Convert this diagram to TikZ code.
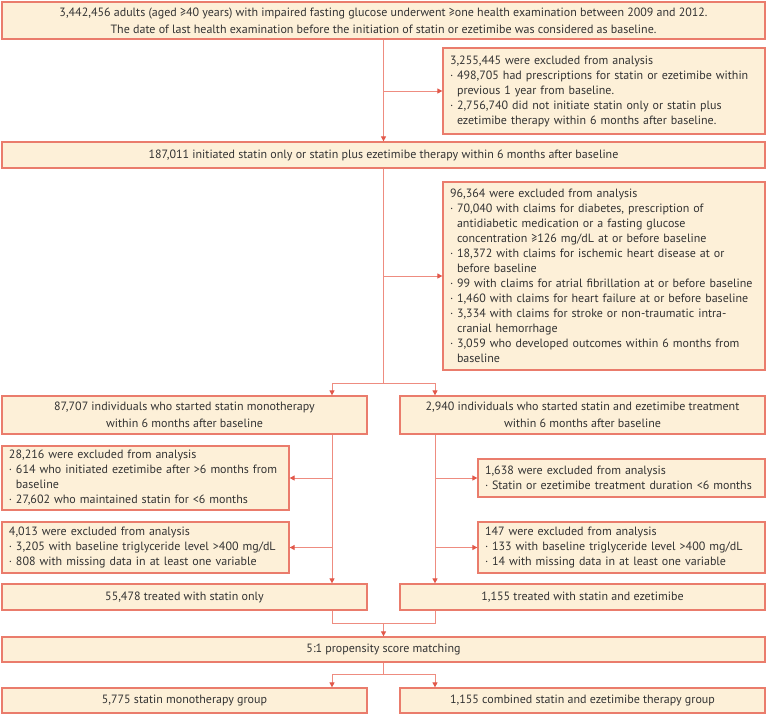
\documentclass[tikz,border=0pt]{standalone}
\usepackage{fontspec}
\setmainfont{PT Sans}
\usetikzlibrary{arrows.meta,calc}
\definecolor{boxfill}{HTML}{FDF0D8}
\definecolor{boxline}{HTML}{EA7C6C}
\definecolor{connc}{HTML}{EE8C80}
\definecolor{tipc}{HTML}{E2584A}
\definecolor{txtc}{HTML}{333333}
\newcommand\bl{\makebox[7pt][l]{·}}
\newcommand\ind{\hspace*{7pt}}
\newcommand\li[1]{\mbox{#1}\\}
\newcommand\lz[1]{\mbox{#1}}
\begin{document}
\begin{tikzpicture}[x=1pt,y=-1pt,
  box/.style={draw=boxline, fill=boxfill, line width=1.3pt, text=txtc,
    font=\fontsize{12}{17}\selectfont, inner sep=0pt, align=center},
  xbox/.style={draw=boxline, fill=boxfill, line width=1.3pt, text=txtc,
    font=\fontsize{12}{15}\selectfont, inner xsep=7pt, inner ysep=0pt, align=left},
  conn/.style={draw=connc, line width=1pt},
  arr/.style={conn, -{Triangle[length=5pt,width=5pt,color=tipc]}}]
\fill[white] (0,0) rectangle (767,715);
\useasboundingbox (0,0) rectangle (767,715);

\node[box, minimum width=763, minimum height=37] (b1) at (383.5,20.5)
  {3,442,456 adults (aged ≥40 years) with impaired fasting glucose underwent ≥one health examination between 2009 and 2012.\\
   The date of last health examination before the initiation of statin or ezetimibe was considered as baseline.};

\node[xbox, text width=308, minimum height=86] (e1) at (604,91)
  {\li{3,255,445 were excluded from analysis}
   \li{\bl 498,705 had prescriptions for statin or ezetimibe within}
   \li{\ind previous 1 year from baseline.}
   \li{\bl 2,756,740 did not initiate statin only or statin plus}
   \lz{\ind ezetimibe therapy within 6 months after baseline.}};

\node[box, minimum width=763, minimum height=26] (b2) at (383.5,155)
  {187,011 initiated statin only or statin plus ezetimibe therapy within 6 months after baseline};

\node[xbox, text width=308, minimum height=188] (e2) at (604,276)
  {\li{96,364 were excluded from analysis}
   \li{\bl 70,040 with claims for diabetes, prescription of}
   \li{\ind antidiabetic medication or a fasting glucose}
   \li{\ind concentration ≥126 mg/dL at or before baseline}
   \li{\bl 18,372 with claims for ischemic heart disease at or}
   \li{\ind before baseline}
   \li{\bl 99 with claims for atrial fibrillation at or before baseline}
   \li{\bl 1,460 with claims for heart failure at or before baseline}
   \li{\bl 3,334 with claims for stroke or non-traumatic intra-}
   \li{\ind cranial hemorrhage}
   \li{\bl 3,059 who developed outcomes within 6 months from}
   \lz{\ind baseline}};

\node[box, minimum width=365, minimum height=38] (L1) at (184.5,415)
  {87,707 individuals who started statin monotherapy\\within 6 months after baseline};
\node[box, minimum width=365, minimum height=38] (R1) at (582.5,415)
  {2,940 individuals who started statin and ezetimibe treatment\\within 6 months after baseline};

\node[xbox, text width=273, minimum height=64] (eL1) at (145.5,478)
  {\li{28,216 were excluded from analysis}
   \li{\bl 614 who initiated ezetimibe after >6 months from}
   \li{\ind baseline}
   \lz{\bl 27,602 who maintained statin for <6 months}};
\node[xbox, text width=273, minimum height=38] (eR1) at (621.5,478)
  {\li{1,638 were excluded from analysis}
   \lz{\bl Statin or ezetimibe treatment duration <6 months}};

\node[xbox, text width=273, minimum height=51] (eL2) at (145.5,547.5)
  {\li{4,013 were excluded from analysis}
   \li{\bl 3,205 with baseline triglyceride level >400 mg/dL}
   \lz{\bl 808 with missing data in at least one variable}};
\node[xbox, text width=273, minimum height=51] (eR2) at (621.5,547.5)
  {\li{147 were excluded from analysis}
   \li{\bl 133 with baseline triglyceride level >400 mg/dL}
   \lz{\bl 14 with missing data in at least one variable}};

\node[box, minimum width=365, minimum height=26] (L3) at (184.5,597) {55,478 treated with statin only};
\node[box, minimum width=365, minimum height=26] (R3) at (582.5,597) {1,155 treated with statin and ezetimibe};

\node[box, minimum width=763, minimum height=25] (pm) at (383.5,649.5) {5:1 propensity score matching};

\node[box, minimum width=365, minimum height=25] (L4) at (184.5,700.5) {5,775 statin monotherapy group};
\node[box, minimum width=365, minimum height=25] (R4) at (582.5,700.5) {1,155 combined statin and ezetimibe therapy group};

\coordinate (lx) at (332,0);
\coordinate (rx) at (435,0);
\coordinate (s1) at (383.5,383);
\coordinate (m) at (383.5,623);
\coordinate (s2) at (383.5,674);

\draw[arr] (b1.south) -- (b2.north);
\draw[arr] (b1.south |- e1.west) -- (e1.west);
\draw[conn] (b2.south) -- (s1);
\draw[arr] (b2.south |- e2.west) -- (e2.west);
\draw[arr] (s1) -| (lx |- L1.north);
\draw[arr] (s1) -| (rx |- R1.north);
\draw[arr] (lx |- L1.south) -- (lx |- L3.north);
\draw[arr] (rx |- R1.south) -- (rx |- R3.north);
\draw[arr] (lx |- eL1.east) -- (eL1.east);
\draw[arr] (lx |- eL2.east) -- (eL2.east);
\draw[arr] (rx |- eR1.west) -- (eR1.west);
\draw[arr] (rx |- eR2.west) -- (eR2.west);
\draw[conn] (lx |- L3.south) |- (m) -| (rx |- R3.south);
\draw[arr] (m) -- (pm.north);
\draw[conn] (pm.south) -- (s2);
\draw[arr] (s2) -| (lx |- L4.north);
\draw[arr] (s2) -| (rx |- R4.north);
\end{tikzpicture}
\end{document}
